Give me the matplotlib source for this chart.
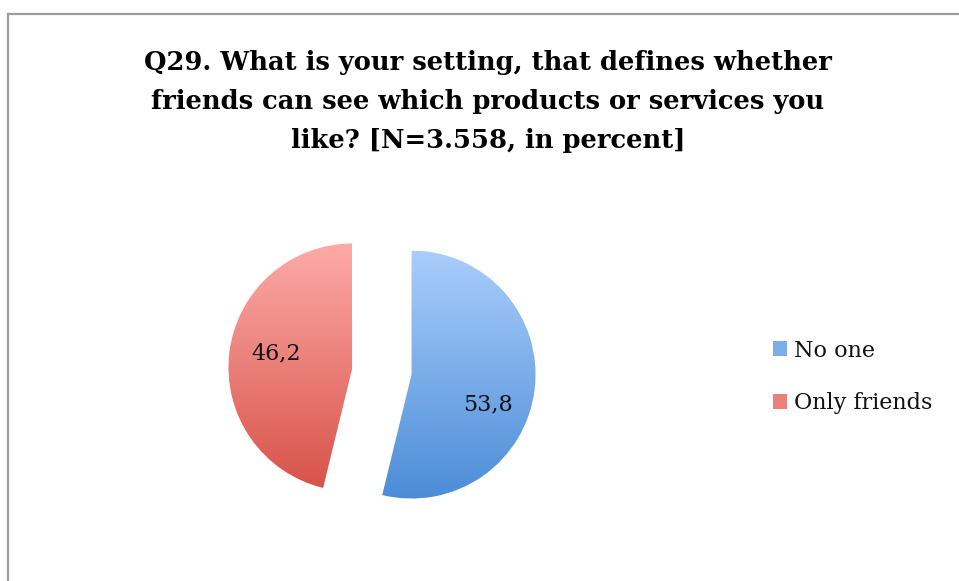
import numpy as np
import matplotlib.pyplot as plt
from matplotlib.patches import Patch
from matplotlib.colors import to_rgb

labels = ["No one", "Only friends"]
values = [53.8, 46.2]
title = ("Q29. What is your setting, that defines whether\n"
         "friends can see which products or services you\n"
         "like? [N=3.558, in percent]")

top_colors = ["#aacdfb", "#fdaba8"]
bottom_colors = ["#4c8dd7", "#d8534a"]

plt.rcParams['font.family'] = ['DejaVu Serif']

W, H = 959, 581
fig = plt.figure(figsize=(W / 100, H / 100), dpi=100)

# chart frame, only top and left edge are in view
fig.add_artist(plt.Line2D([8 / W, 8 / W], [0, 1 - 14 / H], transform=fig.transFigure,
                          color="#9c9c9c", lw=1.6))
fig.add_artist(plt.Line2D([8 / W, 1], [1 - 14 / H, 1 - 14 / H], transform=fig.transFigure,
                          color="#9c9c9c", lw=1.6))

fig.text(488 / W, 1 - 50 / H, title, ha="center", va="top", fontsize=18.5,
         fontweight="bold", linespacing=1.7, color="black")

S = 396.8
ax = fig.add_axes([(382 - S / 2) / W, (210 - S / 2) / H, S / W, S / H])


def fmt(p):
    return f"{p:.1f}".replace(".", ",")


wedges, texts, autotexts = ax.pie(values, startangle=90, counterclock=False,
                                  explode=[0.24, 0.24], autopct=fmt, pctdistance=0.6,
                                  textprops=dict(fontsize=16, color="#111111"))

# vertical gradient fill, clipped to each wedge
for w, c0, c1 in zip(wedges, top_colors, bottom_colors):
    x0, y0, x1, y1 = w.get_path().get_extents().extents
    t = np.linspace(0, 1, 256)[:, None, None]
    grad = (1 - t) * np.array(to_rgb(c0)) + t * np.array(to_rgb(c1))
    im = ax.imshow(grad, extent=[x0, x1, y0, y1], origin="upper", aspect="auto",
                   interpolation="bilinear", zorder=0.5)
    im.set_clip_path(w)
    w.set_facecolor("none")
    w.set_edgecolor("none")

# Excel puts the blue label a bit lower than the mid angle
x, y = autotexts[0].get_position()
autotexts[0].set_position((x + 0.02, y - 0.17))
x, y = autotexts[1].get_position()
autotexts[1].set_position((x - 0.02, y + 0.04))

ax.set_xlim(-1.6, 1.6)
ax.set_ylim(-1.6, 1.6)
ax.set_aspect("equal")
ax.axis("off")

mid = [tuple((np.array(to_rgb(a)) + np.array(to_rgb(b))) / 2) for a, b in zip(top_colors, bottom_colors)]
handles = [Patch(facecolor=c, edgecolor="none") for c in mid]
fig.legend(handles, labels, loc="center left", bbox_to_anchor=(773 / W, 1 - 377 / H),
           frameon=False, fontsize=16, handlelength=0.65, handleheight=0.65,
           handletextpad=0.3, labelspacing=1.38, borderpad=0, borderaxespad=0,
           labelcolor="#111111")

fig.savefig("out.png", dpi=100)
